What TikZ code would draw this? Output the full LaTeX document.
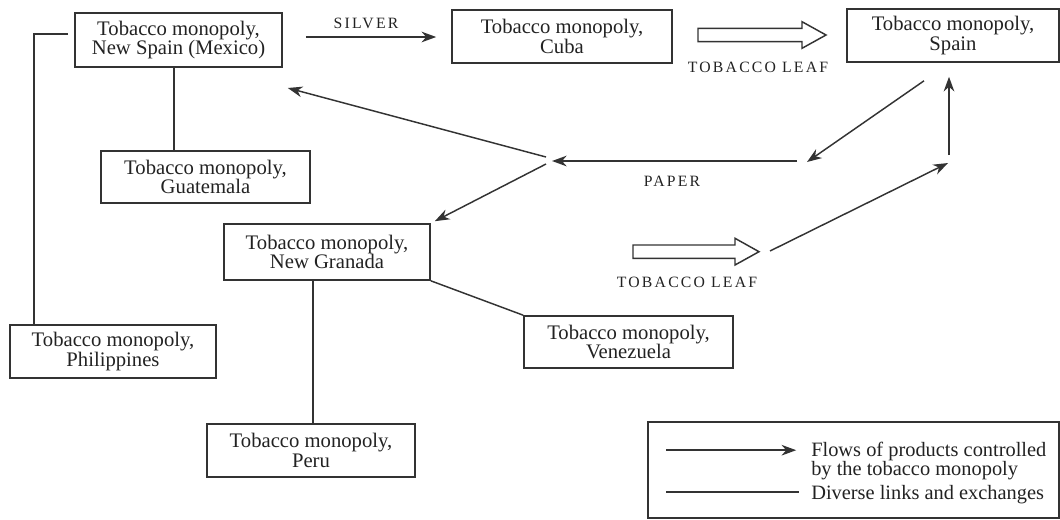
\documentclass[tikz,border=0pt]{standalone}
\usepackage{fontspec}
\setmainfont{Liberation Serif}
\newfontfamily\capsfont[LetterSpace=14]{Liberation Serif}
\usetikzlibrary{arrows.meta,calc}
\definecolor{ink}{HTML}{333333}
\definecolor{txt}{HTML}{222222}
\begin{document}
\begin{tikzpicture}[x=0.75pt,y=-0.75pt,
  mbox/.style={draw=ink, line width=1.2pt, inner sep=0pt, align=center, text=txt,
    font=\fontsize{15.5}{14.5}\selectfont},
  link/.style={draw=ink, line width=1.1pt},
  flow/.style={link, -{Stealth[length=11pt,width=8pt,inset=3.5pt]}},
  hollow/.style={draw=ink, line width=1.1pt, fill=white, line join=miter},
  lab/.style={text=txt, inner sep=0pt, font=\fontsize{11.8}{12}\capsfont},
  legtext/.style={text=txt, inner sep=0pt, align=left, anchor=west,
    font=\fontsize{15.3}{13.5}\selectfont}]
\useasboundingbox (0,0) rectangle (1060,519);

% boxes
\node[mbox, minimum width=155.25pt, minimum height=40.5pt] (mex) at (178.5,40) {Tobacco monopoly,\\New Spain (Mexico)};
\node[mbox, minimum width=165pt, minimum height=39.75pt] (cuba) at (562,36.5) {Tobacco monopoly,\\Cuba};
\node[mbox, minimum width=159pt, minimum height=39.75pt] (spain) at (953,35.5) {Tobacco monopoly,\\Spain};
\node[mbox, minimum width=156.75pt, minimum height=39pt] (guat) at (205.5,177) {Tobacco monopoly,\\Guatemala};
\node[mbox, minimum width=154.5pt, minimum height=42pt] (ng) at (327,252) {Tobacco monopoly,\\New Granada};
\node[mbox, minimum width=154.5pt, minimum height=39.75pt] (phil) at (113,351.5) {Tobacco monopoly,\\Philippines};
\node[mbox, minimum width=156.75pt, minimum height=39pt] (ven) at (628.5,342) {Tobacco monopoly,\\Venezuela};
\node[mbox, minimum width=156pt, minimum height=39.75pt] (peru) at (311,450.5) {Tobacco monopoly,\\Peru};

% labels
\node[lab] (silver) at (366,23) {SILVER};
\node[lab] (leaf1) at (758,67) {TOBACCO LEAF};
\node[lab] (paper) at (672,181) {PAPER};
\node[lab] (leaf2) at (687,282) {TOBACCO LEAF};

% hollow arrows
\draw[hollow] (698,28.3) -- (802,28.3) -- (802,21.7) -- (826,35) -- (802,48.3) -- (802,41.7) -- (698,41.7) -- cycle;
\draw[hollow] (633,245) -- (735,245) -- (735,238.3) -- (759,251.7) -- (735,265) -- (735,258.3) -- (633,258.3) -- cycle;

% free coordinates
\coordinate (pR) at (797,161);
\coordinate (pL) at (552,161);
\coordinate (hubT) at (546,157);
\coordinate (hubB) at (546,164);
\coordinate (spR) at (807,162);
\coordinate (leafS) at (770,251);
\coordinate (corner) at (948,163);
\coordinate (vertS) at (949,155);

% flows
\draw[flow] ($(mex.east)+(23,-3)$) -- ($(cuba.west)+(-15,0.5)$);
\draw[flow] ($(spain.south)+(-29,18)$) -- (spR);
\draw[flow] (pR) -- (pL);
\draw[flow] (hubT) -- ($(mex.east)+(5,48)$);
\draw[flow] (hubB) -- ($(ng.north east)+(4,-2)$);
\draw[flow] (leafS) -- (corner);
\draw[flow] (vertS) -- ($(spain.south)+(-4,14)$);

% links
\draw[link] ($(mex.west)+(-6,-6)$) -| ($(phil.north)+(-79,0)$);
\draw[link] ($(mex.south)+(-4.5,0)$) -- ($(guat.north)+(-31.5,0)$);
\draw[link] ($(ng.south)+(-14,0)$) -- ($(peru.north)+(2,0)$);
\draw[link] (ng.south east) -- (ven.north west);

% legend
\node[draw=ink, line width=1.2pt, inner sep=0pt, minimum width=308.25pt, minimum height=72pt] (legend) at (853.5,470) {};
\draw[flow] ($(legend.north west)+(19,29)$) -- ($(legend.north west)+(149,29)$);
\draw[link] ($(legend.north west)+(19,71)$) -- ($(legend.north west)+(152,71)$);
\node[legtext] (lt1) at (811,461) {Flows of products controlled\\by the tobacco monopoly};
\node[legtext] (lt2) at (811,495) {Diverse links and exchanges};
\end{tikzpicture}
\end{document}
